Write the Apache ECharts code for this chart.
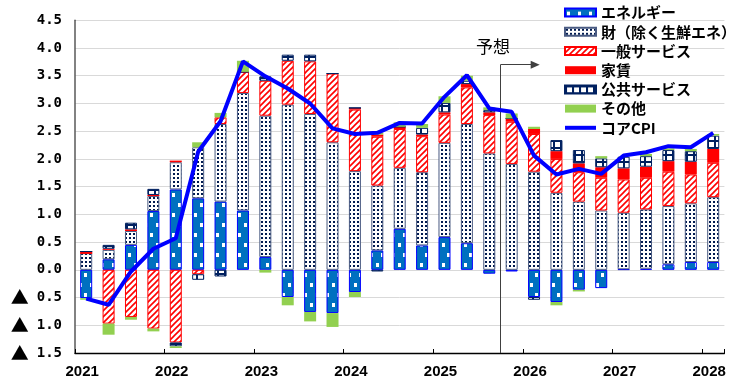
<!DOCTYPE html>
<html><head><meta charset="utf-8">
<script src="https://cdn.jsdelivr.net/npm/echarts@6/dist/echarts.min.js"></script>
<style>html,body{margin:0;padding:0;background:#fff}#c{width:745px;height:382px}</style>
</head><body><div id="c"></div>
<script>
const categories = ['2021Q1','2021Q2','2021Q3','2021Q4','2022Q1','2022Q2','2022Q3','2022Q4','2023Q1','2023Q2','2023Q3','2023Q4','2024Q1','2024Q2','2024Q3','2024Q4','2025Q1','2025Q2','2025Q3','2025Q4','2026Q1','2026Q2','2026Q3','2026Q4','2027Q1','2027Q2','2027Q3','2027Q4','2028Q1'];
const energy = [-0.51, 0.19, 0.45, 1.06, 1.45, 1.29, 1.23, 1.07, 0.23, -0.49, -0.76, -0.78, -0.40, 0.35, 0.74, 0.44, 0.59, 0.48, -0.07, -0.03, -0.49, -0.58, -0.36, -0.33, 0.01, 0.02, 0.10, 0.14, 0.14];
const goods = [0.30, 0.17, 0.25, 0.27, 0.49, 0.92, 1.40, 2.12, 2.55, 2.98, 2.81, 2.30, 1.78, 1.17, 1.10, 1.32, 1.70, 2.15, 2.10, 1.91, 1.77, 1.39, 1.23, 1.07, 1.02, 1.07, 1.05, 1.06, 1.17];
const generalServices = [0, -0.97, -0.85, -1.06, -1.31, -0.08, 0.12, 0.38, 0.63, 0.79, 0.95, 1.24, 1.11, 0.88, 0.70, 0.65, 0.51, 0.66, 0.69, 0.76, 0.68, 0.61, 0.53, 0.59, 0.60, 0.57, 0.62, 0.52, 0.62];
const rent = [0.03, 0.02, 0.03, 0.02, 0.03, 0, 0, 0, 0, 0, 0, 0, 0.03, 0.04, 0.04, 0.03, 0.04, 0.06, 0.05, 0.06, 0.09, 0.14, 0.16, 0.19, 0.20, 0.20, 0.19, 0.23, 0.25];
const publicServices = [0, 0.07, 0.12, 0.11, -0.07, -0.10, -0.12, 0, 0.08, 0.11, 0.12, 0, 0, -0.03, 0, 0.12, 0.17, 0.06, 0.04, 0, -0.05, 0.20, 0.24, 0.16, 0.21, 0.19, 0.20, 0.19, 0.24];
const other = [-0.03, -0.20, -0.05, -0.05, -0.03, 0.09, 0.08, 0.20, -0.05, -0.15, -0.17, -0.25, -0.09, 0.03, 0.08, 0.07, 0.12, 0.09, 0.05, 0.09, 0.04, -0.06, -0.03, 0.04, 0, 0.04, 0.03, 0.04, 0.03];
const coreCPI = [-0.52, -0.63, -0.03, 0.38, 0.57, 2.13, 2.68, 3.76, 3.49, 3.27, 3.00, 2.55, 2.45, 2.47, 2.65, 2.64, 3.12, 3.51, 2.91, 2.85, 2.06, 1.72, 1.82, 1.73, 2.06, 2.12, 2.23, 2.21, 2.47];
const seriesNames = ['エネルギー', '財（除く生鮮エネ）', '一般サービス', '家賃', '公共サービス', 'その他', 'コアCPI'];
const yMin = -1.5, yMax = 4.5, yStep = 0.5;
const forecastStartIndex = 19; // 2025Q4 onward is forecast
const forecastLabel = '予想';

function makePattern(w, h, draw) {
  const c = document.createElement('canvas');
  c.width = w; c.height = h;
  const ctx = c.getContext('2d');
  draw(ctx, w, h);
  return { image: c, repeat: 'repeat' };
}
const navy = '#002060';
const energyPat = makePattern(11, 20, (ctx, w, h) => {
  ctx.fillStyle = '#0070C0'; ctx.fillRect(0, 0, w, h);
  ctx.fillStyle = '#ffffff';
  ctx.fillRect(2, 3, 3, 4); ctx.fillRect(7, 13, 3, 4);
});
const goodsPat = makePattern(4, 4, (ctx, w, h) => {
  ctx.fillStyle = '#ffffff'; ctx.fillRect(0, 0, w, h);
  ctx.fillStyle = '#001a50'; ctx.fillRect(1, 1, 2, 2);
});
const generalPat = makePattern(6, 6, (ctx, w, h) => {
  ctx.fillStyle = '#ffffff'; ctx.fillRect(0, 0, w, h);
  ctx.strokeStyle = '#FF0000'; ctx.lineWidth = 1.6;
  ctx.beginPath();
  ctx.moveTo(-1, 7); ctx.lineTo(7, -1);
  ctx.moveTo(-4, 4); ctx.lineTo(4, -4);
  ctx.moveTo(2, 10); ctx.lineTo(10, 2);
  ctx.stroke();
});
const publicPat = makePattern(7, 7, (ctx, w, h) => {
  ctx.fillStyle = navy; ctx.fillRect(0, 0, w, h);
  ctx.fillStyle = '#ffffff'; ctx.fillRect(2, 2, 5, 5);
});

const chart = echarts.init(document.getElementById('c'), null, { renderer: 'canvas' });
const barW = 12;
function bar(name, data, color, border) {
  return {
    name, type: 'bar', stack: 'total', data, barWidth: barW,
    itemStyle: { color, borderColor: border || color, borderWidth: border ? 1 : 0 },
    emphasis: { disabled: true }
  };
}
const legendData = seriesNames.map((n, i) => i < 6 ? { name: n, icon: 'rect' } : { name: n, icon: 'path://M0,0H31V4H0Z' });
const option = {
  animation: false,
  backgroundColor: '#ffffff',
  grid: { left: 75, right: 20.6, top: 20.3, bottom: 29 },
  legend: {
    orient: 'vertical', left: 564, top: 3, padding: 0,
    itemWidth: 31, itemHeight: 8, itemGap: 0,
    textStyle: { fontFamily: 'Noto Sans CJK JP', fontWeight: 'bold', fontSize: 15, color: '#000', lineHeight: 19.2 },
    data: legendData
  },
  xAxis: [{
    type: 'category', data: categories, boundaryGap: true,
    axisLine: { onZero: false, lineStyle: { color: '#000', width: 1.3 } },
    axisTick: { show: true, inside: true, length: 4, interval: 3, lineStyle: { color: '#000' } },
    axisLabel: {
      interval: 3, margin: 11,
      formatter: v => '{y|' + v.slice(0, 4) + '}',
      rich: { y: { fontFamily: 'Liberation Sans', fontWeight: 'bold', fontSize: 15, color: '#000', padding: [0, 8, 0, 0] } }
    },
    splitLine: { show: false }
  }, {
    type: 'value', min: 0, max: categories.length, show: false
  }],
  yAxis: {
    type: 'value', min: yMin, max: yMax, interval: yStep,
    axisLine: { show: true, lineStyle: { color: '#595959', width: 1.5 } },
    axisTick: { show: false },
    splitLine: { lineStyle: { color: '#D9D9D9', width: 1 } },
    axisLabel: {
      margin: 13,
      formatter: v => {
        const a = Math.abs(v).toFixed(1);
        return v < 0 ? '{t|▲}{n|' + a + '}' : '{n|' + a + '}';
      },
      rich: {
        n: { fontFamily: 'DejaVu Sans Mono', fontWeight: 'bold', fontSize: 14, color: '#000' },
        t: { fontFamily: 'Noto Sans CJK JP', fontSize: 18, color: '#000', padding: [0, 8, 0, 0] }
      }
    }
  },
  series: [
    bar(seriesNames[0], energy, energyPat, '#0000FF'),
    bar(seriesNames[1], goods, goodsPat, '#4A5B82'),
    bar(seriesNames[2], generalServices, generalPat, '#FF0000'),
    bar(seriesNames[3], rent, '#FF0000'),
    bar(seriesNames[4], publicServices, publicPat, navy),
    bar(seriesNames[5], other, '#92D050'),
    {
      name: seriesNames[6], type: 'line', data: coreCPI, showSymbol: false, symbol: 'none',
      lineStyle: { color: '#0000FF', width: 4 }, itemStyle: { color: '#0000FF' }, z: 5,
      emphasis: { disabled: true }
    },
    {
      name: 'forecast', type: 'line', xAxisIndex: 1, data: [], silent: true, z: 6,
      markLine: {
        silent: true, animation: false, label: { show: false },
        lineStyle: { color: '#404040', width: 1, type: 'solid' },
        symbol: ['none', 'none'],
        data: [
          [{ coord: [forecastStartIndex, yMin] }, { coord: [forecastStartIndex, 3.70] }],
          [{ coord: [forecastStartIndex, 3.70], symbol: 'none' },
           { coord: [forecastStartIndex + 1.55, 3.70], symbol: 'triangle', symbolSize: [8, 9] }]
        ]
      },
      markPoint: {
        silent: true, symbol: 'rect', symbolSize: 0,
        label: { show: true, position: 'inside', formatter: forecastLabel, fontFamily: 'Noto Sans CJK JP', fontSize: 17, color: '#000' },
        data: [{ coord: [forecastStartIndex - 0.33, 4.03] }]
      }
    }
  ]
};
chart.setOption(option);
</script>
</body></html>
